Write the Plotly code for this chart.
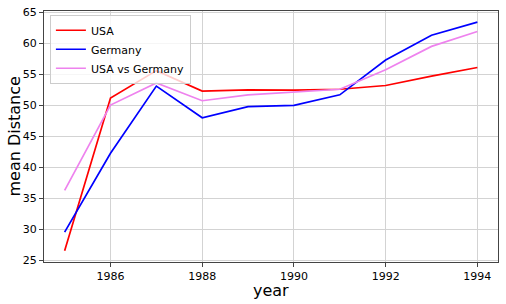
import plotly.graph_objects as go

years = [1985, 1986, 1987, 1988, 1989, 1990, 1991, 1992, 1993, 1994]
usa = [26.6, 51.2, 55.6, 52.3, 52.5, 52.45, 52.6, 53.2, 54.7, 56.1]
germany = [29.6, 42.3, 53.1, 48.0, 49.8, 50.0, 51.7, 57.3, 61.3, 63.4]
usa_vs_germany = [36.3, 50.05, 53.6, 50.75, 51.7, 52.1, 52.6, 55.75, 59.5, 61.9]
x_ticks = [1986, 1988, 1990, 1992, 1994]
y_ticks = [25, 30, 35, 40, 45, 50, 55, 60, 65]

series = [("USA", usa, "#ff0000"), ("Germany", germany, "#0000ff"), ("USA vs Germany", usa_vs_germany, "#ee82ee")]

fig = go.Figure()
for name, vals, col in series:
    fig.add_trace(go.Scatter(x=years, y=vals, mode="lines", name=name,
                             line=dict(color=col, width=1.7)))

font = "DejaVu Sans"
fig.update_layout(
    width=506, height=304,
    margin=dict(l=44, r=8, t=11, b=42, autoexpand=False),
    paper_bgcolor="white", plot_bgcolor="white",
    font=dict(family=font, color="black", size=11),
    showlegend=True,
    legend=dict(x=0.013, y=0.985, xanchor="left", yanchor="top",
                bgcolor="rgba(255,255,255,0.8)", bordercolor="#cccccc", borderwidth=1,
                font=dict(size=11, family=font), tracegroupgap=0, itemwidth=30),
    annotations=[
        dict(text="year", xref="paper", yref="paper", x=0.5, y=-0.114, yanchor="middle",
             showarrow=False, borderpad=0, font=dict(size=16, family=font)),
        dict(text="mean Distance", xref="paper", yref="paper", x=-0.066, y=0.5,
             xanchor="center", yanchor="middle", textangle=-90,
             showarrow=False, font=dict(size=16, family=font)),
    ],
)
fig.update_xaxes(range=[1984.55, 1994.45], tickvals=x_ticks, automargin=False,
                 showgrid=True, gridcolor="#d3d3d3", gridwidth=1,
                 showline=True, linecolor="#444444", linewidth=1, mirror=True,
                 ticks="outside", ticklen=4, tickcolor="#444444", zeroline=False)
fig.update_yaxes(range=[24.78, 65.2], tickvals=y_ticks, automargin=False,
                 showgrid=True, gridcolor="#d3d3d3", gridwidth=1,
                 showline=True, linecolor="#444444", linewidth=1, mirror=True,
                 ticks="outside", ticklen=4, tickcolor="#444444", zeroline=False)

fig.write_html("out.html", config={"displayModeBar": False},
               post_script="document.body.style.margin='0';")
